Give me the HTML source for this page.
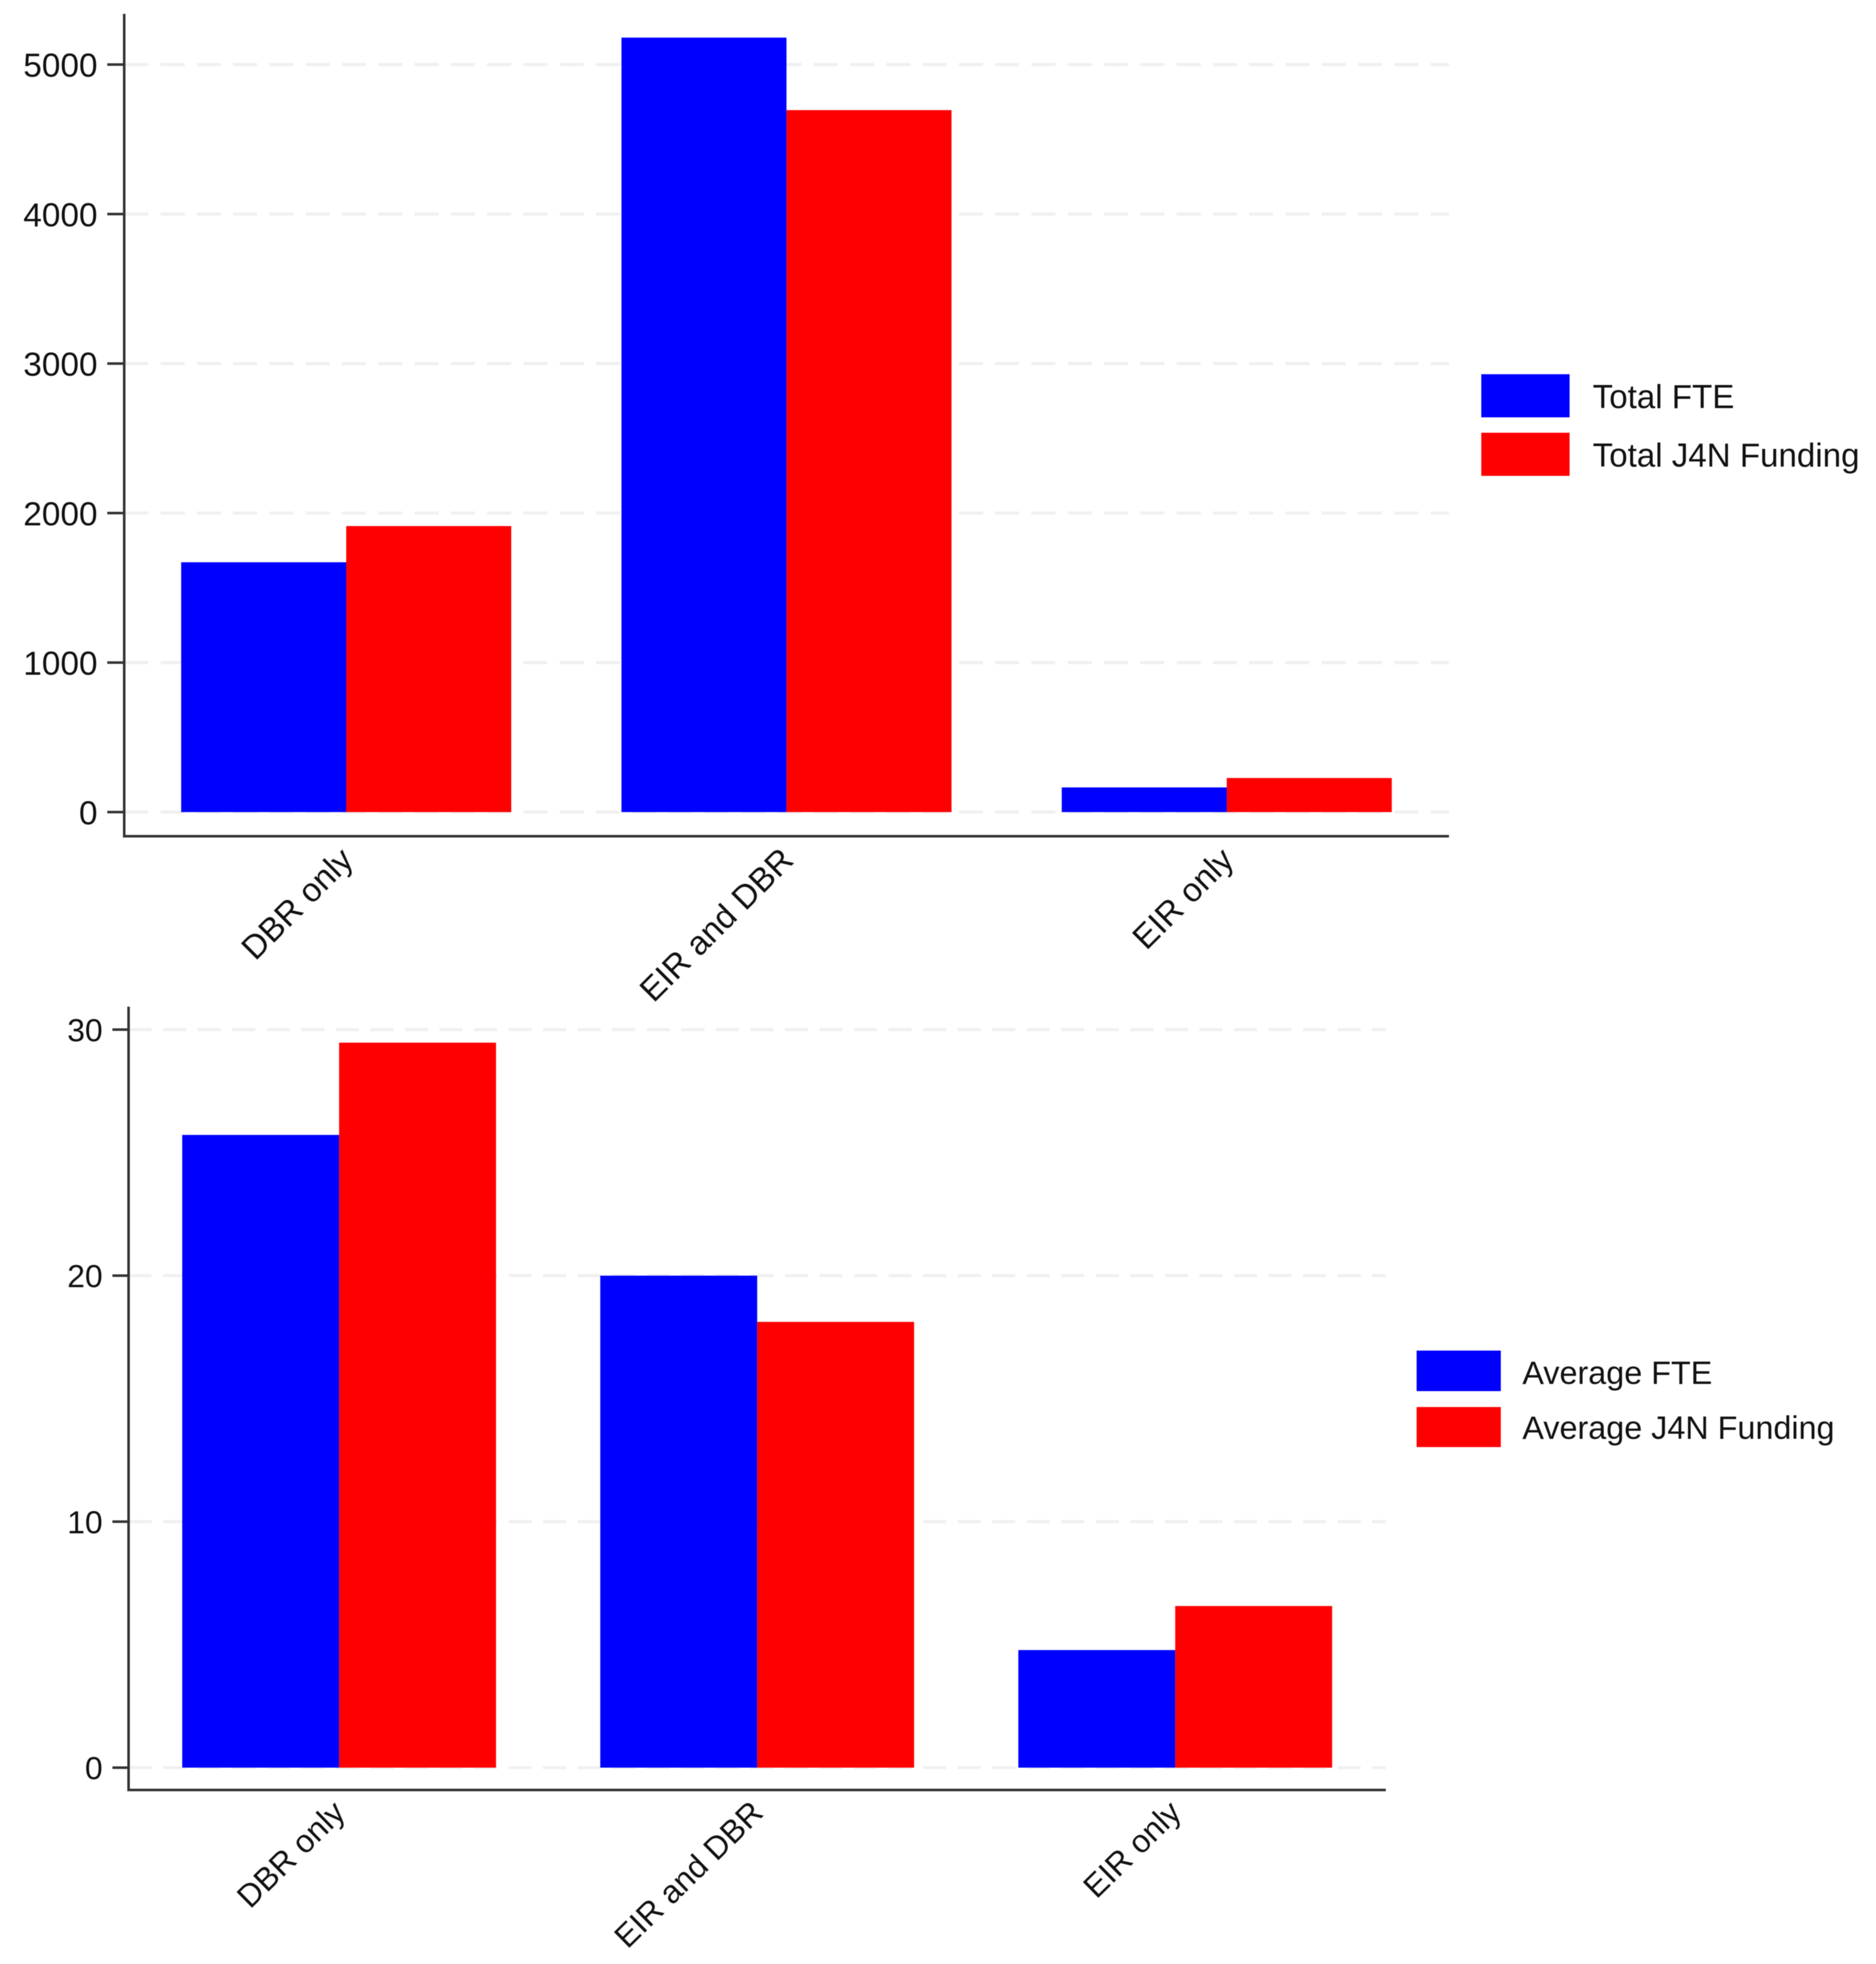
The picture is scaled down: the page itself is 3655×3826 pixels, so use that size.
<!DOCTYPE html>
<html lang="en">
<head>
<meta charset="utf-8">
<title>FTE and J4N Funding by Category</title>
<style>
  html, body { margin: 0; padding: 0; background: #ffffff; }
  svg { display: block; filter: blur(0.7px); }
  text { font-family: "Liberation Sans", Arial, sans-serif; fill: #111111; }
</style>
</head>
<body>
<svg id="chart" xmlns="http://www.w3.org/2000/svg" width="3655" height="3826" viewBox="0 0 3655 3826">
  <rect x="0" y="0" width="3655" height="3826" fill="#ffffff"></rect>
  <g id="top-panel"></g>
  <g id="bottom-panel"></g>

  <g>
    <rect x="2886" y="729" width="172" height="84" fill="#0000ff"></rect>
    <text x="3103" y="795" font-size="64.5">Total FTE</text>
    <rect x="2886" y="843" width="172" height="84" fill="#ff0000"></rect>
    <text x="3103" y="909" font-size="64.5">Total J4N Funding</text>
  </g>

  <g>
    <rect x="2760" y="2631" width="164" height="79" fill="#0000ff"></rect>
    <text x="2966" y="2696" font-size="63">Average FTE</text>
    <rect x="2760" y="2741" width="164" height="78" fill="#ff0000"></rect>
    <text x="2966" y="2803" font-size="63">Average J4N Funding</text>
  </g>
</svg>

<script>
// Chart data
const categories = ["DBR only", "EIR and DBR", "EIR only"];
const totalFte = [1671, 5180, 165];
const totalFunding = [1913, 4695, 228];
const totalTicks = [0, 1000, 2000, 3000, 4000, 5000];
const averageFte = [25.72, 20.0, 4.78];
const averageFunding = [29.47, 18.12, 6.57];
const averageTicks = [0, 10, 20, 30];

const SVG_NS = "http://www.w3.org/2000/svg";

function make(parent, tag, attrs, content) {
  const el = document.createElementNS(SVG_NS, tag);
  for (const key in attrs) el.setAttribute(key, attrs[key]);
  if (content !== undefined) el.textContent = content;
  parent.appendChild(el);
  return el;
}

function drawPanel(root, cfg) {
  // Axis functions
  const yScale = function (v) {
    return cfg.yZero - (v / cfg.yRefValue) * (cfg.yZero - cfg.yRefPixel);
  };
  const xGroup = function (i) {
    return cfg.firstBarLeft + i * cfg.groupStep;
  };

  // Horizontal dashed gridlines
  cfg.ticks.forEach(function (t) {
    const grid = make(root, "line", {
      x1: cfg.axisX, x2: cfg.axisEnd, y1: yScale(t), y2: yScale(t),
      stroke: "#f0f0f0", "stroke-width": 6,
      "stroke-dasharray": cfg.dash
    });
    
    
  });

  // Bars
  categories.forEach(function (cat, i) {
    const left = xGroup(i);
    const h1 = yScale(0) - yScale(cfg.series1[i]);
    const bar1 = make(root, "rect", {
      x: left, y: yScale(cfg.series1[i]), width: cfg.barWidth, height: h1, fill: "#0000ff"
    });
    
    

    const h2 = yScale(0) - yScale(cfg.series2[i]);
    const bar2 = make(root, "rect", {
      x: left + cfg.barWidth, y: yScale(cfg.series2[i]), width: cfg.barWidth, height: h2, fill: "#ff0000"
    });
    
    

    // Rotated category label
    const lx = left + cfg.barWidth + cfg.labelDx;
    const label = make(root, "text", {
      x: lx, y: cfg.labelY, "font-size": cfg.labelSize, "text-anchor": "end",
      transform: "rotate(" + cfg.labelAngle + " " + lx + " " + cfg.labelY + ")"
    }, cat);
    
    
  });

  // Y ticks and labels
  cfg.ticks.forEach(function (t) {
    const tick = make(root, "line", {
      x1: cfg.tickStart, x2: cfg.axisX, y1: yScale(t), y2: yScale(t),
      stroke: "#333333", "stroke-width": 5
    });
    
    

    const tickLabel = make(root, "text", {
      x: cfg.tickLabelRight, y: yScale(t) + cfg.tickLabelDy,
      "font-size": cfg.fontSize, "text-anchor": "end"
    }, String(t));
    
    
  });

  // Axis lines
  const yAxis = make(root, "line", {
    x1: cfg.axisX, x2: cfg.axisX, y1: cfg.axisTop, y2: cfg.axisBottom + 2.5,
    stroke: "#333333", "stroke-width": 5
  });
  
  

  const xAxis = make(root, "line", {
    x1: cfg.axisX, x2: cfg.axisEnd, y1: cfg.axisBottom, y2: cfg.axisBottom,
    stroke: "#333333", "stroke-width": 5
  });
  
  
}

drawPanel(document.getElementById("top-panel"), {
  series1: totalFte,
  series2: totalFunding,
  ticks: totalTicks,
  yZero: 1582,
  yRefValue: 5000,
  yRefPixel: 125.7,
  firstBarLeft: 353,
  barWidth: 321.5,
  groupStep: 857.8,
  axisX: 242,
  axisEnd: 2823,
  axisTop: 27,
  axisBottom: 1629,
  tickStart: 209,
  tickLabelRight: 190,
  tickLabelDy: 24,
  fontSize: 65,
  labelSize: 65,
  dash: "47 23.7",
  labelDx: 17,
  labelY: 1679,
  labelAngle: -45
});

drawPanel(document.getElementById("bottom-panel"), {
  series1: averageFte,
  series2: averageFunding,
  ticks: averageTicks,
  yZero: 3443.5,
  yRefValue: 30,
  yRefPixel: 2005.8,
  firstBarLeft: 355,
  barWidth: 305.7,
  groupStep: 814.5,
  axisX: 250.5,
  axisEnd: 2700,
  axisTop: 1961,
  axisBottom: 3487,
  tickStart: 219,
  tickLabelRight: 200,
  tickLabelDy: 22.5,
  fontSize: 62,
  labelSize: 62.5,
  dash: "45 22.3",
  labelDx: 15,
  labelY: 3535,
  labelAngle: -44.5
});
</script>
</body>
</html>
